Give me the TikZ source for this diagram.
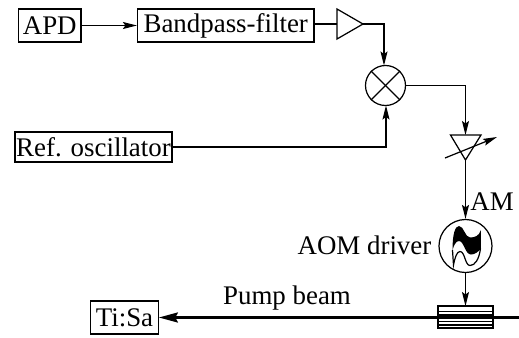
\documentclass[tikz,border=0pt]{standalone}
\usepackage{fontspec}
\setmainfont{Liberation Serif}
\usetikzlibrary{arrows.meta}
\tikzset{
  wire/.style = {line width = 0.7pt},
  sig/.style = {wire, -{Stealth[length=0.28cm,width=0.14cm,inset=0.05cm]}},
  lbl/.style = {inner sep = 0pt},
  blk/.style = {draw, wire, inner sep = 0pt, minimum height = 0.66cm},
  rnd/.style = {draw, wire, circle, inner sep = 0pt}
}
\begin{document}
\begin{tikzpicture}[font = \fontsize{15.3}{18}\selectfont]
\useasboundingbox (0,0) rectangle (10.38,6.74);
% top row
\node[blk, minimum width = 1.25cm] (apd) at (0.995,6.23) {APD};
\node[blk, minimum width = 3.53cm] (bpf) at (4.515,6.23) {Bandpass-filter};
\coordinate (ampin) at (6.74,6.26);
\coordinate (ampout) at (7.26,6.26);
\draw[wire] (6.74,6.56) -- (7.26,6.26) -- (6.74,5.96) -- cycle;
\draw[sig] (apd) -- (bpf);
\draw[wire] (bpf.east |- ampin) -- (ampin);
% mixer
\node[rnd, minimum size = 0.8cm] (mix) at (7.71,5.03) {};
\draw[wire] (mix.45) -- (mix.225);
\draw[wire] (mix.135) -- (mix.315);
\coordinate (mixtop) at (7.68,5.43);
\coordinate (mixbot) at (7.72,4.63);
\draw[sig] (ampout) -| (mixtop);
% oscillator
\node[blk, minimum width = 3.14cm, minimum height = 0.6cm] (osc) at (1.87,3.8) {Ref. oscillator};
\draw[sig] (osc.east) -| (mixbot);
% variable amplifier
\coordinate (vatop) at (9.31,4.04);
\coordinate (vabot) at (9.31,3.54);
\draw[wire] (9.01,4.04) -- (9.62,4.04) -- (vabot) -- cycle;
\coordinate (vafrom) at (8.9,3.58);
\coordinate (vato) at (9.94,4.0);
\draw[sig] (vafrom) -- (vato);
\draw[sig] (mix.east) -| (vatop);
% AOM driver
\node[rnd, minimum size = 1.06cm] (drv) at (9.31,1.82) {};
\draw[sig] (vabot) -- (drv.north);
\fill (9.05,1.74) .. controls (9.05,2.05) and (9.1,2.22) .. (9.18,2.22)
  .. controls (9.28,2.22) and (9.3,1.99) .. (9.4,1.99)
  .. controls (9.5,1.99) and (9.58,2.02) .. (9.62,2.14)
  -- (9.62,1.77)
  .. controls (9.56,1.7) and (9.5,1.65) .. (9.42,1.65)
  .. controls (9.3,1.65) and (9.28,1.92) .. (9.18,1.92)
  .. controls (9.12,1.92) and (9.08,1.84) .. (9.05,1.74) -- cycle;
\draw[wire] (9.05,1.74) -- (9.07,1.44) .. controls (9.1,1.6) and (9.14,1.71) .. (9.2,1.71)
  .. controls (9.3,1.71) and (9.3,1.43) .. (9.4,1.43)
  .. controls (9.5,1.43) and (9.58,1.55) .. (9.61,1.77);
\node[lbl] (am) at (9.84,2.7) {AM};
\node[lbl] (drvlbl) at (7.29,1.83) {AOM driver};
% pump beam and modulator
\node[blk, minimum width = 1.35cm] (tisa) at (2.49,0.39) {Ti:Sa};
\coordinate (beamend) at (10.38,0.39);
\coordinate (aomtop) at (9.31,0.62);
\node[lbl] (pump) at (5.74,0.78) {Pump beam};
\draw[line width = 1.4pt, -{Stealth[length=0.38cm,width=0.2cm,inset=0.05cm]}] (beamend) -- (tisa.east);
\foreach \y in {0.24,0.306,0.44,0.506} {
  \draw[wire] (8.76,\y) -- (9.86,\y);
}
\draw[wire] (8.76,0.18) rectangle (9.86,0.62);
\draw[sig] (drv.south) -- (aomtop);
\end{tikzpicture}
\end{document}
